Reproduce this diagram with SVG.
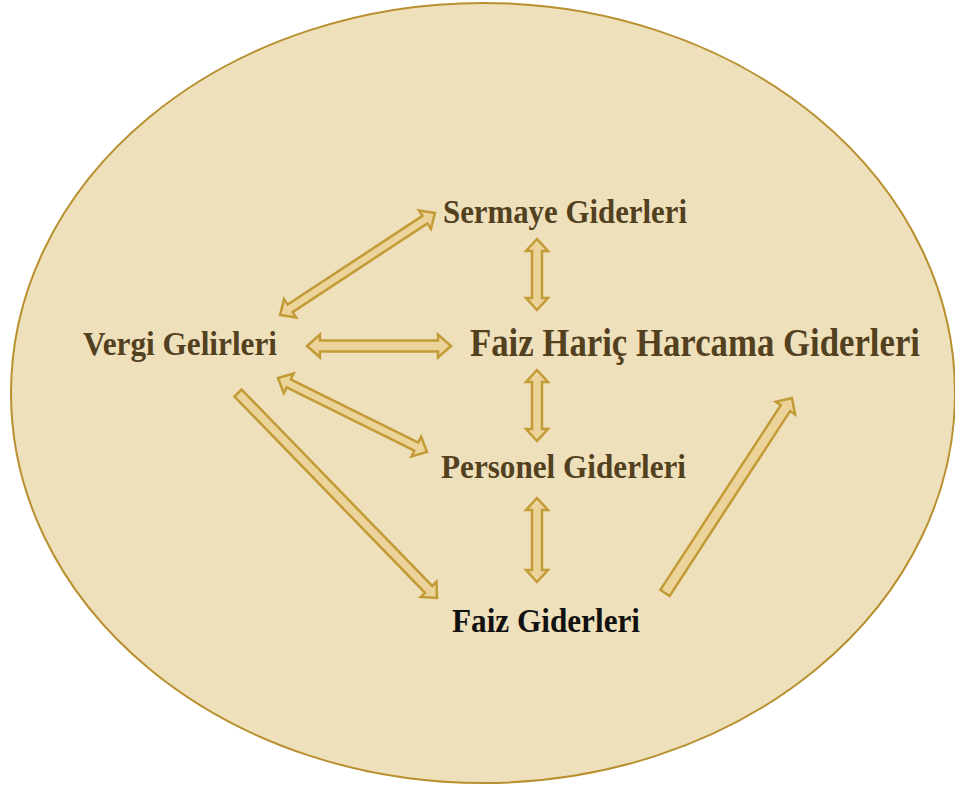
<svg xmlns="http://www.w3.org/2000/svg" width="955" height="787" viewBox="0 0 955 787">
<style>
.bg{fill:#EFE0BC;stroke:#B8902F;stroke-width:2}
.arr{fill:#EBD39A;stroke:#C29A36;stroke-width:2.5;stroke-linejoin:miter}
.t{font-family:"Liberation Serif","Times New Roman",serif;font-weight:bold;fill:#52401F}
</style>
<rect width="955" height="787" fill="#ffffff"/>
<ellipse class="bg" cx="483" cy="393" rx="472" ry="390"/>
<g id="connectors">
<path class="arr" transform="translate(357.5,264) rotate(-33.35)" d="M-92.7,0 L-80.7,-11 L-80.7,-4.5 L80.7,-4.5 L80.7,-11 L92.7,0 L80.7,11 L80.7,4.5 L-80.7,4.5 L-80.7,11 Z"/>
<path class="arr" transform="translate(537,274.5) rotate(90)" d="M-35.5,0 L-23.5,-11 L-23.5,-5 L23.5,-5 L23.5,-11 L35.5,0 L23.5,11 L23.5,5 L-23.5,5 L-23.5,11 Z"/>
<path class="arr" transform="translate(379,346)" d="M-72,0 L-59,-11.5 L-59,-5.5 L59,-5.5 L59,-11.5 L72,0 L59,11.5 L59,5.5 L-59,5.5 L-59,11.5 Z"/>
<path class="arr" transform="translate(352.5,415) rotate(26.4)" d="M-83.2,0 L-71.2,-11 L-71.2,-4.5 L71.2,-4.5 L71.2,-11 L83.2,0 L71.2,11 L71.2,4.5 L-71.2,4.5 L-71.2,11 Z"/>
<path class="arr" transform="translate(537,405.5) rotate(90)" d="M-35.5,0 L-23.5,-11 L-23.5,-5 L23.5,-5 L23.5,-11 L35.5,0 L23.5,11 L23.5,5 L-23.5,5 L-23.5,11 Z"/>
<path class="arr" transform="translate(337.5,495.5) rotate(45.85)" d="M-142.8,-5 L130.8,-5 L130.8,-11 L142.8,0 L130.8,11 L130.8,5 L-142.8,5 Z"/>
<path class="arr" transform="translate(537,540) rotate(90)" d="M-42,0 L-30,-11 L-30,-5 L30,-5 L30,-11 L42,0 L30,11 L30,5 L-30,5 L-30,11 Z"/>
<path class="arr" transform="translate(728.5,495.5) rotate(-56.9)" d="M-116.3,-5.5 L104.3,-5.5 L104.3,-11.5 L116.3,0 L104.3,11.5 L104.3,5.5 L-116.3,5.5 Z"/>
</g>
<g id="node-sermaye"><text class="t" x="443" y="223" font-size="34" textLength="244" lengthAdjust="spacingAndGlyphs">Sermaye Giderleri</text></g>
<g id="node-vergi"><text class="t" x="83" y="355" font-size="34" textLength="194" lengthAdjust="spacingAndGlyphs">Vergi Gelirleri</text></g>
<g id="node-faizharic"><text class="t" x="470" y="356" font-size="39" textLength="450" lengthAdjust="spacingAndGlyphs">Faiz Hariç Harcama Giderleri</text></g>
<g id="node-personel"><text class="t" x="441" y="478" font-size="34" textLength="245" lengthAdjust="spacingAndGlyphs">Personel Giderleri</text></g>
<g id="node-faiz"><text class="t" x="452" y="632" font-size="34" textLength="188" lengthAdjust="spacingAndGlyphs" style="fill:#111111">Faiz Giderleri</text></g>
</svg>
